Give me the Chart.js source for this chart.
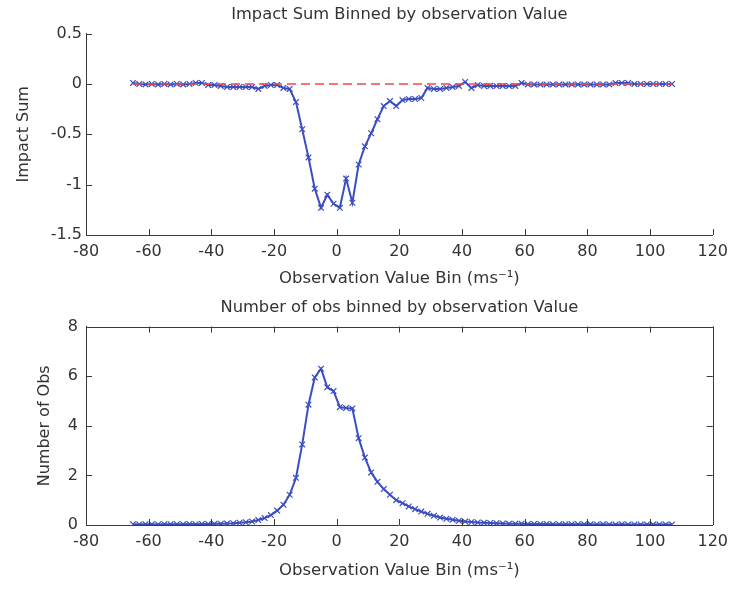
<!DOCTYPE html>
<html>
<head>
<meta charset="utf-8">
<script src="https://cdn.jsdelivr.net/npm/chart.js@4"></script>
<style>
    body { margin: 0; background: #fff; }
    canvas { position: absolute; left: 0; }
    #impact-chart { top: 0; }
    #obs-chart { top: 290px; }
</style>
</head>
<body>
<canvas id="impact-chart" width="735" height="290"></canvas>
<canvas id="obs-chart" width="735" height="299"></canvas>
<script>
// bin centres (ms^-1)
const xBins = [
    -65, -63, -61, -59, -57, -55, -53, -51, -49, -47, -45, -43, -41, -39, -37, -35,
    -33, -31, -29, -27, -25, -23, -21, -19, -17, -15, -13, -11, -9, -7, -5, -3, -1,
    1, 3, 5, 7, 9, 11, 13, 15, 17, 19, 21, 23, 25, 27, 29, 31, 33, 35, 37, 39,
    41, 43, 45, 47, 49, 51, 53, 55, 57, 59, 61, 63, 65, 67, 69, 71, 73, 75, 77,
    79, 81, 83, 85, 87, 89, 91, 93, 95, 97, 99, 101, 103, 105, 107
];

const impactSum = [
    0.01, 0.0, -0.005, 0.0, -0.005, 0.0, -0.005, 0.0, -0.005, 0.0, 0.01, 0.01, -0.01, -0.01, -0.02, -0.03,
    -0.03, -0.03, -0.03, -0.03, -0.05, -0.02, -0.01, -0.01, -0.04, -0.05, -0.18, -0.45, -0.73, -1.04, -1.23, -1.1, -1.19,
    -1.23, -0.94, -1.18, -0.8, -0.62, -0.49, -0.35, -0.22, -0.17, -0.22, -0.16, -0.15, -0.15, -0.14, -0.04, -0.05, -0.05, -0.04, -0.03, -0.02,
    0.02, -0.04, -0.01, -0.02, -0.02, -0.02, -0.02, -0.02, -0.02, 0.01, -0.005, -0.005, -0.005, -0.005, -0.005, -0.005, -0.005, -0.005, -0.005,
    -0.005, -0.005, -0.005, -0.005, -0.005, 0.01, 0.01, 0.01, 0.0, 0.0, 0.0, 0.0, 0.0, 0.0, 0.0
];

const obsCount = [
    0.03, 0.02, 0.03, 0.03, 0.02, 0.03, 0.03, 0.03, 0.03, 0.04, 0.03, 0.04, 0.04, 0.05, 0.05, 0.06,
    0.07, 0.09, 0.11, 0.14, 0.2, 0.28, 0.4, 0.58, 0.82, 1.22, 1.9, 3.25, 4.85, 5.95, 6.3, 5.55, 5.4,
    4.75, 4.72, 4.7, 3.5, 2.72, 2.12, 1.74, 1.45, 1.22, 1.0, 0.88, 0.75, 0.64, 0.54, 0.45, 0.37, 0.3, 0.25, 0.21, 0.17,
    0.14, 0.12, 0.1, 0.09, 0.08, 0.07, 0.06, 0.05, 0.05, 0.05, 0.04, 0.04, 0.04, 0.04, 0.03, 0.03, 0.03, 0.03,
    0.03, 0.03, 0.03, 0.02, 0.03, 0.02, 0.02, 0.03, 0.02, 0.02, 0.02, 0.02, 0.02, 0.02, 0.02, 0.02
];

const zeroLineX = [-65, 107];
const zeroLineY = [0, 0];

const xTicks = { min: -80, max: 120, step: 20 };

const textColor = '#333333';
const axisColor = '#3a3a3a';
const lineColor = '#3a4ec0';
const fontFamily = "'DejaVu Sans', sans-serif";

function toPoints(xs, ys) {
    return xs.map((x, i) => ({ x: x, y: ys[i] }));
}

// matlab style ticks pointing into the plot
const innerTicks = {
    id: 'innerTicks',
    afterDatasetsDraw(chart, args, opts) {
        const { ctx, chartArea: a, scales } = chart;
        const len = 6;
        ctx.save();
        ctx.strokeStyle = axisColor;
        ctx.lineWidth = 1;
        ctx.beginPath();
        scales.x.ticks.forEach(t => {
            const px = Math.round(scales.x.getPixelForValue(t.value)) + 0.5;
            ctx.moveTo(px, a.bottom);
            ctx.lineTo(px, a.bottom - len);
            if (opts.box) {
                ctx.moveTo(px, a.top);
                ctx.lineTo(px, a.top + len);
            }
        });
        scales.y.ticks.forEach(t => {
            const py = Math.round(scales.y.getPixelForValue(t.value)) + 0.5;
            ctx.moveTo(a.left, py);
            ctx.lineTo(a.left + len, py);
            if (opts.box) {
                ctx.moveTo(a.right, py);
                ctx.lineTo(a.right - len, py);
            }
        });
        if (opts.box) {
            ctx.moveTo(a.left, Math.round(a.top) + 0.5);
            ctx.lineTo(a.right, Math.round(a.top) + 0.5);
            ctx.moveTo(Math.round(a.right) + 0.5, a.top);
            ctx.lineTo(Math.round(a.right) + 0.5, a.bottom);
        }
        ctx.stroke();
        ctx.restore();
    }
};

function makeChart(canvasId, cfg) {
    const ctx = document.getElementById(canvasId).getContext('2d');
    return new Chart(ctx, {
        type: 'line',
        data: { datasets: cfg.datasets },
        options: {
            responsive: false,
            animation: false,
            layout: { padding: { left: 0, right: 18, top: 0, bottom: 0 } },
            plugins: {
                legend: { display: false },
                tooltip: { enabled: false },
                title: {
                    display: true,
                    fullSize: false,
                    text: cfg.title,
                    color: textColor,
                    font: { family: fontFamily, size: 16.3, weight: 'normal' },
                    padding: cfg.titlePad
                },
                innerTicks: { box: cfg.box }
            },
            scales: {
                x: {
                    type: 'linear',
                    min: xTicks.min,
                    max: xTicks.max,
                    afterFit: scale => { scale.height = cfg.xHeight; },
                    ticks: {
                        stepSize: xTicks.step,
                        color: textColor,
                        padding: 7,
                        maxRotation: 0,
                        font: { family: fontFamily, size: 16 }
                    },
                    grid: { display: false, drawTicks: false },
                    border: { display: true, color: axisColor, width: 1 },
                    title: {
                        display: true,
                        text: 'Observation Value Bin (ms⁻¹)',
                        color: textColor,
                        font: { family: fontFamily, size: 16.5 },
                        padding: { top: 0, bottom: cfg.xTitlePad }
                    }
                },
                y: {
                    min: cfg.yMin,
                    max: cfg.yMax,
                    afterFit: scale => { scale.width = 86; },
                    ticks: {
                        stepSize: cfg.yStep,
                        color: textColor,
                        padding: cfg.yTickPad,
                        font: { family: fontFamily, size: 16 },
                        callback: v => String(v)
                    },
                    grid: { display: false, drawTicks: false },
                    border: { display: true, color: axisColor, width: 1 },
                    title: {
                        display: true,
                        text: cfg.yTitle,
                        color: textColor,
                        font: { family: fontFamily, size: 16 },
                        padding: { top: cfg.yTitlePad, bottom: 0 }
                    }
                }
            }
        },
        plugins: [innerTicks]
    });
}

function seriesDataset(ys) {
    return {
        data: toPoints(xBins, ys),
        borderColor: lineColor,
        backgroundColor: lineColor,
        borderWidth: 2,
        pointStyle: 'crossRot',
        pointRadius: 4,
        pointBorderWidth: 1.2,
        tension: 0
    };
}

window.onload = function () {
    makeChart('impact-chart', {
        title: 'Impact Sum Binned by observation Value',
        titlePad: { top: 5, bottom: 9 },
        yTitle: 'Impact Sum',
        yTitlePad: 14,
        yTickPad: 4,
        yMin: -1.5, yMax: 0.5, yStep: 0.5,
        xHeight: 55,
        xTitlePad: 1,
        box: false,
        datasets: [
            {
                data: toPoints(zeroLineX, zeroLineY),
                borderColor: '#f04848',
                borderWidth: 1.5,
                borderDash: [9, 5],
                pointRadius: 0
            },
            seriesDataset(impactSum)
        ]
    });

    makeChart('obs-chart', {
        title: 'Number of obs binned by observation Value',
        titlePad: { top: 8, bottom: 9 },
        yTitle: 'Number of Obs',
        yTitlePad: 35,
        yTickPad: 8,
        yMin: 0, yMax: 8, yStep: 2,
        xHeight: 64,
        xTitlePad: 8,
        box: true,
        datasets: [seriesDataset(obsCount)]
    });
};
</script>
</body>
</html>
